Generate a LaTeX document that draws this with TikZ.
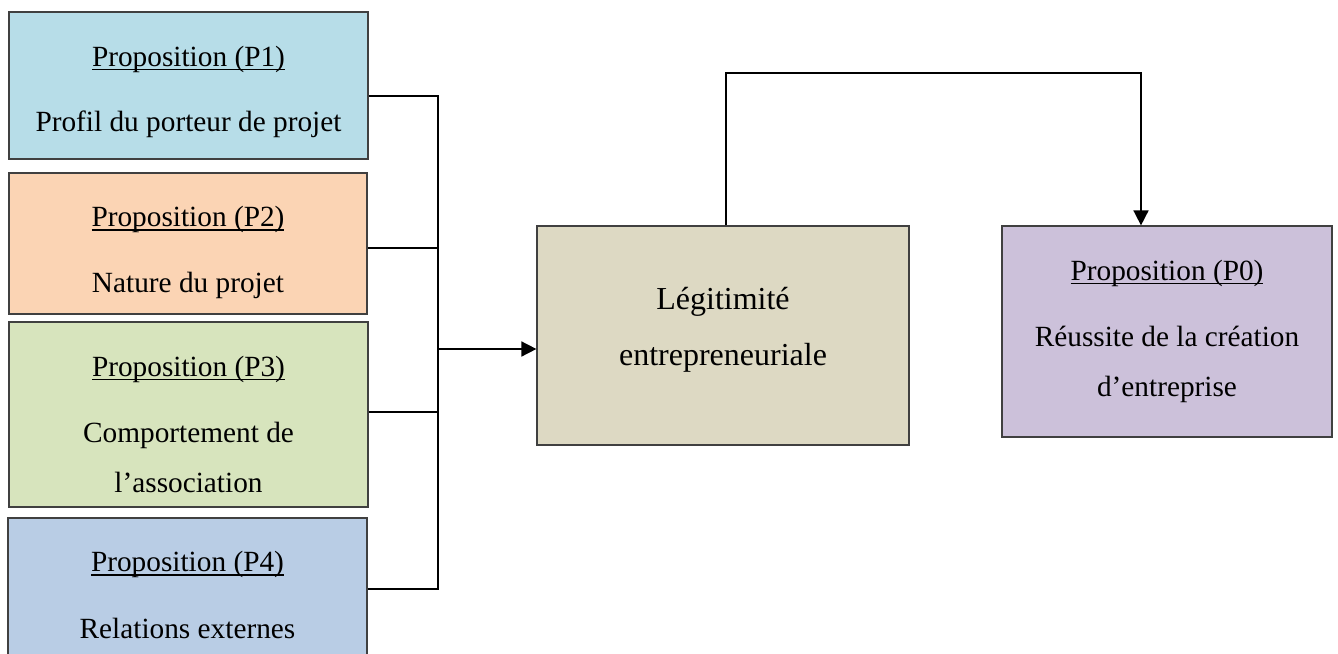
\documentclass[tikz,border=0pt]{standalone}
\usepackage{fontspec}
\setmainfont{Liberation Serif}
\usetikzlibrary{arrows.meta}
\definecolor{cPone}{HTML}{B7DDE8}
\definecolor{cPtwo}{HTML}{FBD4B4}
\definecolor{cPthree}{HTML}{D7E4BD}
\definecolor{cPfour}{HTML}{B9CDE5}
\definecolor{cLeg}{HTML}{DDD9C3}
\definecolor{cPzero}{HTML}{CCC1DA}
\newcommand\myul[1]{\setbox0=\hbox{#1}\rlap{\rule[-2.0pt]{\wd0}{0.65pt}}\box0}
\tikzset{
  boxnode/.style={draw=black!75, line width=0.6pt, rectangle, inner sep=0pt},
  txt/.style={anchor=base, inner sep=0pt, font=\fontsize{14.65pt}{17pt}\selectfont},
  bigtxt/.style={anchor=base, inner sep=0pt, font=\fontsize{16pt}{19pt}\selectfont},
  conn/.style={draw=black, line width=0.8pt},
  arr/.style={conn, -{Triangle[length=7.5pt,width=7.5pt]}}
}
\begin{document}
\begin{tikzpicture}[x=0.5pt,y=-0.5pt]
\useasboundingbox (0,0) rectangle (1338,653);
\clip (0,0) rectangle (1338,653);
% boxes
\node[boxnode, fill=cPone, minimum width=179.5pt, minimum height=73.5pt] (p1) at (188.5,85.5) {};
\node[boxnode, fill=cPtwo, minimum width=179pt, minimum height=70.5pt] (p2) at (188,243.5) {};
\node[boxnode, fill=cPthree, minimum width=179.5pt, minimum height=92.5pt] (p3) at (188.5,414.5) {};
\node[boxnode, fill=cPfour, minimum width=179.5pt, minimum height=91pt] (p4) at (187.5,609) {};
\node[boxnode, fill=cLeg, minimum width=186pt, minimum height=109.5pt] (leg) at (723,335.5) {};
\node[boxnode, fill=cPzero, minimum width=165pt, minimum height=105.5pt] (p0) at (1167,331.5) {};
% texts
\node[txt] (p1a) at (188.5,66) {\myul{Proposition (P1)}};
\node[txt] (p1b) at (188.5,131) {Profil du porteur de projet};
\node[txt] (p2a) at (188,226.7) {\myul{Proposition (P2)}};
\node[txt] (p2b) at (188,292.7) {Nature du projet};
\node[txt] (p3a) at (188.5,376) {\myul{Proposition (P3)}};
\node[txt] (p3b) at (188.5,442.7) {Comportement de};
\node[txt] (p3c) at (188.5,492.7) {l’association};
\node[txt] (p4a) at (187.5,571.7) {\myul{Proposition (P4)}};
\node[txt] (p4b) at (187.5,638.3) {Relations externes};
\node[bigtxt] (lega) at (723,309) {Légitimité};
\node[bigtxt] (legb) at (723,365) {entrepreneuriale};
\node[txt] (p0a) at (1167,280) {\myul{Proposition (P0)}};
\node[txt] (p0b) at (1167,346.7) {Réussite de la création};
\node[txt] (p0c) at (1167,396.7) {d’entreprise};
% connector points
\coordinate (b1) at (438,96);
\coordinate (b2) at (438,248);
\coordinate (b3) at (438,412);
\coordinate (b4) at (438,589);
\coordinate (bm) at (438,349);
\coordinate (t1) at (726,73);
\coordinate (t2) at (1141,73);
% connectors
\draw[conn] (p1.east |- b1) -- (b1);
\draw[conn] (p2.east |- b2) -- (b2);
\draw[conn] (p3.east |- b3) -- (b3);
\draw[conn] (p4.east |- b4) -- (b4);
\draw[conn, line cap=rect] (b1) -- (b4);
\draw[arr] (bm) -- (leg.west |- bm);
\draw[arr, line join=miter] (leg.north -| t1) -- (t1) -- (t2) -- (p0.north -| t2);
\end{tikzpicture}
\end{document}
